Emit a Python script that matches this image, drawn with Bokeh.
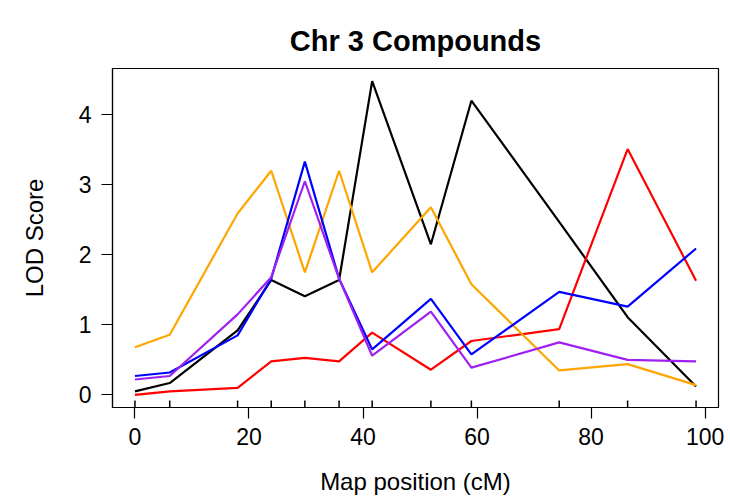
from bokeh.plotting import figure
from bokeh.models import Range1d, FixedTicker
from bokeh.embed import file_html
from bokeh.resources import INLINE

# Marker positions (cM)
positions = [0.0, 6.1, 18.0, 23.9, 29.8, 35.8, 41.6, 51.9, 59.0, 74.4, 86.4, 98.4]

# LOD scores per compound (series)
lod_black = [0.05, 0.17, 0.92, 1.64, 1.41, 1.64, 4.48, 2.15, 4.20, 2.47, 1.11, 0.12]
lod_red = [0.00, 0.05, 0.10, 0.48, 0.53, 0.48, 0.89, 0.36, 0.77, 0.94, 3.51, 1.63]
lod_orange = [0.68, 0.86, 2.59, 3.20, 1.75, 3.20, 1.75, 2.68, 1.58, 0.35, 0.44, 0.14]
lod_blue = [0.27, 0.32, 0.85, 1.66, 3.33, 1.66, 0.65, 1.37, 0.58, 1.47, 1.26, 2.09]
lod_purple = [0.22, 0.27, 1.15, 1.68, 3.05, 1.66, 0.56, 1.19, 0.39, 0.75, 0.50, 0.48]

series = [
    (lod_black, "black"),
    (lod_red, "#FF0000"),
    (lod_orange, "#FFA500"),
    (lod_blue, "#0000FF"),
    (lod_purple, "#A020F0"),
]

x_ticks = [0, 20, 40, 60, 80, 100]
y_ticks = [0, 1, 2, 3, 4]

FONT = "Liberation Sans"

xmin, xmax = min(positions), max(positions)
allv = lod_black + lod_red + lod_orange + lod_blue + lod_purple
ymin, ymax = min(allv), max(allv)
xpad = 0.04 * (xmax - xmin)
ypad = 0.04 * (ymax - ymin)

p = figure(
    width=730, height=497,
    output_backend="svg", toolbar_location=None,
    x_range=Range1d(xmin - xpad, xmax + xpad),
    y_range=Range1d(ymin - ypad, ymax + ypad),
    min_border_left=112, min_border_right=12,
    min_border_top=68, min_border_bottom=90,
    title="Chr 3 Compounds",
)

p.title.align = "center"
p.title.text_font = FONT
p.title.text_font_size = "29px"
p.title.text_font_style = "bold"
p.title.text_color = "black"
p.title.standoff = 24

p.grid.visible = False
p.outline_line_color = "black"
p.outline_line_width = 1.2
p.outline_line_alpha = 1.0
p.background_fill_color = "white"
p.border_fill_color = "white"

for ax in (p.xaxis, p.yaxis):
    ax.axis_line_color = "black"
    ax.axis_line_width = 1.2
    ax.major_tick_line_color = "black"
    ax.major_tick_line_width = 1.2
    ax.major_tick_in = 0
    ax.major_tick_out = 11
    ax.minor_tick_line_color = None
    ax.major_label_text_font = FONT
    ax.major_label_text_font_size = "23px"
    ax.major_label_text_color = "black"
    ax.axis_label_text_font = FONT
    ax.axis_label_text_font_size = "24px"
    ax.axis_label_text_font_style = "normal"
    ax.axis_label_text_color = "black"

p.xaxis.ticker = FixedTicker(ticks=x_ticks)
p.yaxis.ticker = FixedTicker(ticks=y_ticks)
p.xaxis.axis_label = "Map position (cM)"
p.yaxis.axis_label = "LOD Score"
p.xaxis.major_label_standoff = 9
p.yaxis.major_label_standoff = 10
p.xaxis.axis_label_standoff = 20
p.yaxis.axis_label_standoff = 28
p.yaxis.major_label_orientation = "horizontal"

for vals, col in series:
    p.line(positions, vals, line_color=col, line_width=2.2)

# rug of marker positions along the bottom
rug_len = 0.1
p.segment(x0=positions, y0=[ymin - ypad] * len(positions),
          x1=positions, y1=[ymin - ypad + rug_len] * len(positions),
          line_color="black", line_width=1.5)

open("out.html", "w").write(file_html(p, INLINE))
